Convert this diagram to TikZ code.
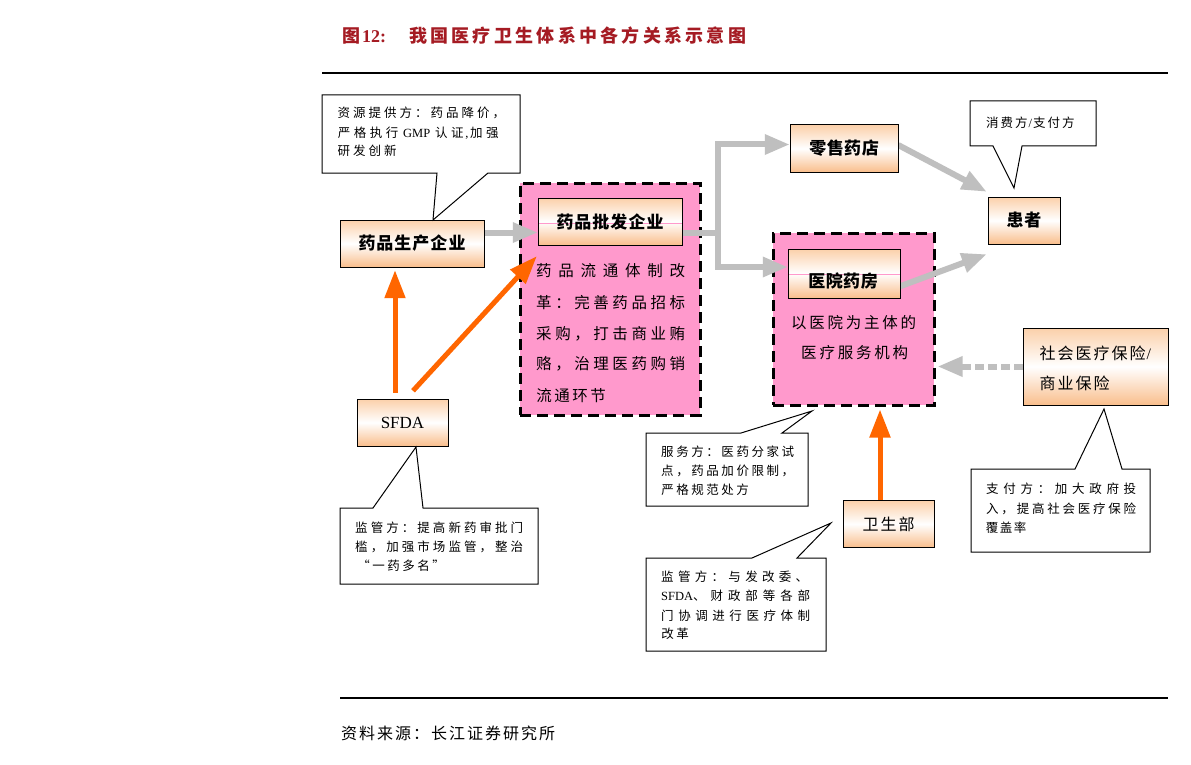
\documentclass[tikz,border=0pt]{standalone}
\usepackage{fontspec}
\setmainfont{Noto Sans CJK SC}
\newfontfamily\latinserif{Liberation Serif}
\usetikzlibrary{arrows.meta}
\definecolor{titlered}{RGB}{165,27,35}
\definecolor{pinkfill}{RGB}{255,153,204}
\definecolor{peachtop}{RGB}{251,208,170}
\definecolor{peachbot}{RGB}{249,190,140}
\definecolor{arrowgray}{RGB}{191,191,191}
\definecolor{orangearr}{RGB}{255,102,0}
\makeatletter
\newcommand\pitch[2]{\def\pitch@w{#1}\pitch@a#2\@nil}
\def\pitch@a#1#2\@nil{\makebox[\pitch@w][c]{#1}\ifx\relax#2\relax\else\pitch@a#2\@nil\fi}
\newcommand\spreadline[2]{\makebox[#1][s]{\spread@a#2\@nil}}
\def\spread@a#1#2\@nil{#1\ifx\relax#2\relax\else\hfill\spread@a#2\@nil\fi}
\makeatother
\tikzset{
 box/.style={draw=black, line width=1pt, top color=peachtop, bottom color=peachbot, middle color=white, inner sep=0pt, font=\fontsize{17}{17}\selectfont\bfseries},
 pinkline/.style={draw=pinkfill, line width=0.8pt},
 midline/.style={path picture={\draw[pinkline] ([yshift=#1]path picture bounding box.west) -- ([yshift=#1]path picture bounding box.east);}},
 pinkzone/.style={draw=black, fill=pinkfill, line width=3pt, dash pattern=on 11pt off 6pt, inner sep=0pt},
 callout/.style={draw=black, fill=white, line width=1pt, line join=miter},
 ctext/.style={anchor=base west, inner sep=0pt, font=\fontsize{12.5}{12.5}\selectfont},
 ztext/.style={anchor=base west, inner sep=0pt, font=\fontsize{15.5}{15.5}\selectfont},
 garrow/.style={draw=arrowgray, line width=6pt, -{Triangle[length=25pt,width=19pt]}},
 oarrow/.style={draw=orangearr, line width=5pt, -{Triangle[length=28pt,width=20pt]}},
}
\begin{document}
\begin{tikzpicture}[x=1pt,y=-1pt]
\path[fill=white,use as bounding box] (0,0) rectangle (1191,765);

% title and rules
\node[anchor=base west, inner sep=0pt, text=titlered, font=\fontsize{18}{18}\selectfont\bfseries] (title) at (342,42.8)
 {图\hspace{2pt}{\latinserif\bfseries 12:}\hspace{23pt}\spreadline{337pt}{我国医疗卫生体系中各方关系示意图}};
\draw[line width=1.5pt] (322,73) -- (1168,73);
\draw[line width=1.3pt] (340,698) -- (1168,698);
\node[anchor=base west, inner sep=0pt, font=\fontsize{16}{16}\selectfont] (src) at (341,739)
 {\spreadline{214pt}{资料来源：长江证券研究所}};

% pink zones
\node[pinkzone, minimum width=180pt, minimum height=232pt] (zone1) at (610,299) {};
\node[pinkzone, minimum width=161pt, minimum height=172pt] (zone2) at (853.5,319) {};

% node frames (for connectors)
\path (412,243.5) node[minimum width=144pt, minimum height=47pt, inner sep=0pt] (mfr) {}
      (610,221.5) node[minimum width=144pt, minimum height=47pt, inner sep=0pt] (wh) {}
      (844,148.5) node[minimum width=108pt, minimum height=47pt, inner sep=0pt] (ret) {}
      (844,273.5) node[minimum width=112pt, minimum height=49pt, inner sep=0pt] (hp) {}
      (1024,220.5) node[minimum width=72pt, minimum height=47pt, inner sep=0pt] (pat) {}
      (402.5,422.5) node[minimum width=91pt, minimum height=47pt, inner sep=0pt] (sfda) {}
      (888.5,524) node[minimum width=91pt, minimum height=47pt, inner sep=0pt] (wsb) {}
      (1095.5,366.5) node[minimum width=145pt, minimum height=77pt, inner sep=0pt] (ins) {};

% gray arrows
\coordinate (split) at (718,232.5);
\draw[garrow] ([yshift=11pt]mfr.east) -- ([yshift=-11pt]wh.west);
\draw[garrow] ([yshift=-11pt]wh.east) -- (split) |- ([yshift=4pt]ret.west);
\draw[garrow] (split) |- ([yshift=6.5pt]hp.west);
\draw[garrow] ([yshift=3.5pt]ret.east) -- ([xshift=-1pt,yshift=5pt]pat.north west);
\draw[garrow] ([xshift=-2pt,yshift=-13.5pt]hp.east) -- ([xshift=-1pt,yshift=-10pt]pat.south west);
\draw[garrow, dash pattern=on 9pt off 4pt, shorten >=2pt] (ins.west) -- (ins.west -| zone2.east);

% orange arrows
\draw[oarrow] ([xshift=-7.5pt,yshift=6pt]sfda.north) -- ([xshift=-17pt,yshift=-3pt]mfr.south);
\draw[oarrow] ([xshift=10.5pt,yshift=8pt]sfda.north) -- ([xshift=-1pt,yshift=-11pt]wh.south west);
\draw[oarrow, shorten >=3pt] ([xshift=-8.5pt]wsb.north) -- ([xshift=-8.5pt]wsb.north |- zone2.south);

% boxes
\node[box, minimum width=144pt, minimum height=47pt] (mfrbox) at (mfr) {\pitch{18pt}{药品生产企业}};
\node[box, midline=-1.5pt, minimum width=144pt, minimum height=47pt] (whbox) at (wh) {\pitch{18pt}{药品批发企业}};
\node[box, minimum width=108pt, minimum height=47pt] (retbox) at (ret) {\pitch{17.5pt}{零售药店}};
\node[box, midline=-0.5pt, minimum width=112pt, minimum height=49pt] (hpbox) at (hp) {};
\node[anchor=center, inner sep=0pt, font=\fontsize{17}{17}\selectfont\bfseries] (hptext) at (843,281) {\pitch{17.5pt}{医院药房}};
\node[box, minimum width=72pt, minimum height=47pt] (patbox) at (pat) {\pitch{18pt}{患者}};
\node[box, minimum width=91pt, minimum height=47pt, font=\fontsize{17}{17}\selectfont\latinserif] (sfdabox) at (sfda) {SFDA};
\node[box, minimum width=91pt, minimum height=47pt, font=\fontsize{16}{16}\selectfont] (wsbbox) at (wsb) {\pitch{18pt}{卫生部}};
\node[box, minimum width=145pt, minimum height=77pt] (insbox) at (ins) {};
\node[anchor=base west, inner sep=0pt, font=\fontsize{16}{16}\selectfont] (ins1) at (1038.5,359) {\pitch{18pt}{社会医疗保险}{\latinserif /}};
\node[anchor=base west, inner sep=0pt, font=\fontsize{16}{16}\selectfont] (ins2) at (1038.5,389) {\pitch{18pt}{商业保险}};

% zone texts
\node[ztext] (z1a) at (536,276) {\spreadline{149pt}{药品流通体制改}};
\node[ztext] (z1b) at (536,308) {\spreadline{149pt}{革：完善药品招标}};
\node[ztext] (z1c) at (536,339) {\spreadline{149pt}{采购，打击商业贿}};
\node[ztext] (z1d) at (536,369) {\spreadline{149pt}{赂，治理医药购销}};
\node[ztext] (z1e) at (535,401) {\pitch{18pt}{流通环节}};
\node[ztext] (z2a) at (791,328) {\spreadline{125pt}{以医院为主体的}};
\node[ztext] (z2b) at (801,358) {\spreadline{107pt}{医疗服务机构}};

% callouts
\draw[callout] (322,95) -- (520,95) -- (520,173) -- (488,173) -- (433,220) -- (437,173) -- (322,173) -- cycle;
\draw[callout] (970,101) -- (1096,101) -- (1096,146) -- (1022,146) -- (1014,188) -- (993,146) -- (970,146) -- cycle;
\draw[callout] (971,469) -- (1075,469) -- (1104,409) -- (1122,469) -- (1150,469) -- (1150,552) -- (971,552) -- cycle;
\draw[callout] (340,508) -- (373,508) -- (416,447) -- (423,508) -- (538,508) -- (538,584) -- (340,584) -- cycle;
\draw[callout] (646,433) -- (741,433) -- (812,411) -- (782,433) -- (808,433) -- (808,506) -- (646,506) -- cycle;
\draw[callout] (646,558) -- (752,558) -- (831,523) -- (797,558) -- (826,558) -- (826,651) -- (646,651) -- cycle;

\node[ctext] (c1a) at (336,118) {\pitch{15.5pt}{资源提供方：药品降价，}};
\node[ctext] (c1b) at (336,138) {\pitch{16pt}{严格执行}\hspace{3pt}{\latinserif GMP}\hspace{3pt}\pitch{16pt}{认证}{\latinserif ,}\pitch{16pt}{加强}};
\node[ctext] (c1c) at (336,156) {\pitch{15.5pt}{研发创新}};

\node[ctext] (c2a) at (985,128) {\pitch{14.5pt}{消费方}{\latinserif /}\pitch{14.5pt}{支付方}};

\node[ctext] (c3a) at (986,493) {\spreadline{150pt}{支付方：加大政府投}};
\node[ctext] (c3b) at (986,513) {\spreadline{150pt}{入，提高社会医疗保险}};
\node[ctext] (c3c) at (985,532) {\pitch{14pt}{覆盖率}};

\node[ctext] (c4a) at (355,532) {\spreadline{168pt}{监管方：提高新药审批门}};
\node[ctext] (c4b) at (355,551) {\spreadline{168pt}{槛，加强市场监管，整治}};
\node[ctext] (c4c) at (356,570) {\pitch{15pt}{“一药多名”}};

\node[ctext] (c5a) at (661,456) {\spreadline{133pt}{服务方：医药分家试}};
\node[ctext] (c5b) at (661,475) {\spreadline{133pt}{点，药品加价限制，}};
\node[ctext] (c5c) at (660,494) {\pitch{15pt}{严格规范处方}};

\node[ctext] (c6a) at (661,581) {\spreadline{147pt}{监管方：与发改委、}};
\node[ctext] (c6b) at (661,600) {\makebox[149pt][s]{{\latinserif SFDA}、\hfill 财\hfill 政\hfill 部\hfill 等\hfill 各\hfill 部}};
\node[ctext] (c6c) at (661,620) {\spreadline{149pt}{门协调进行医疗体制}};
\node[ctext] (c6d) at (660,638) {\pitch{15pt}{改革}};
\end{tikzpicture}
\end{document}
